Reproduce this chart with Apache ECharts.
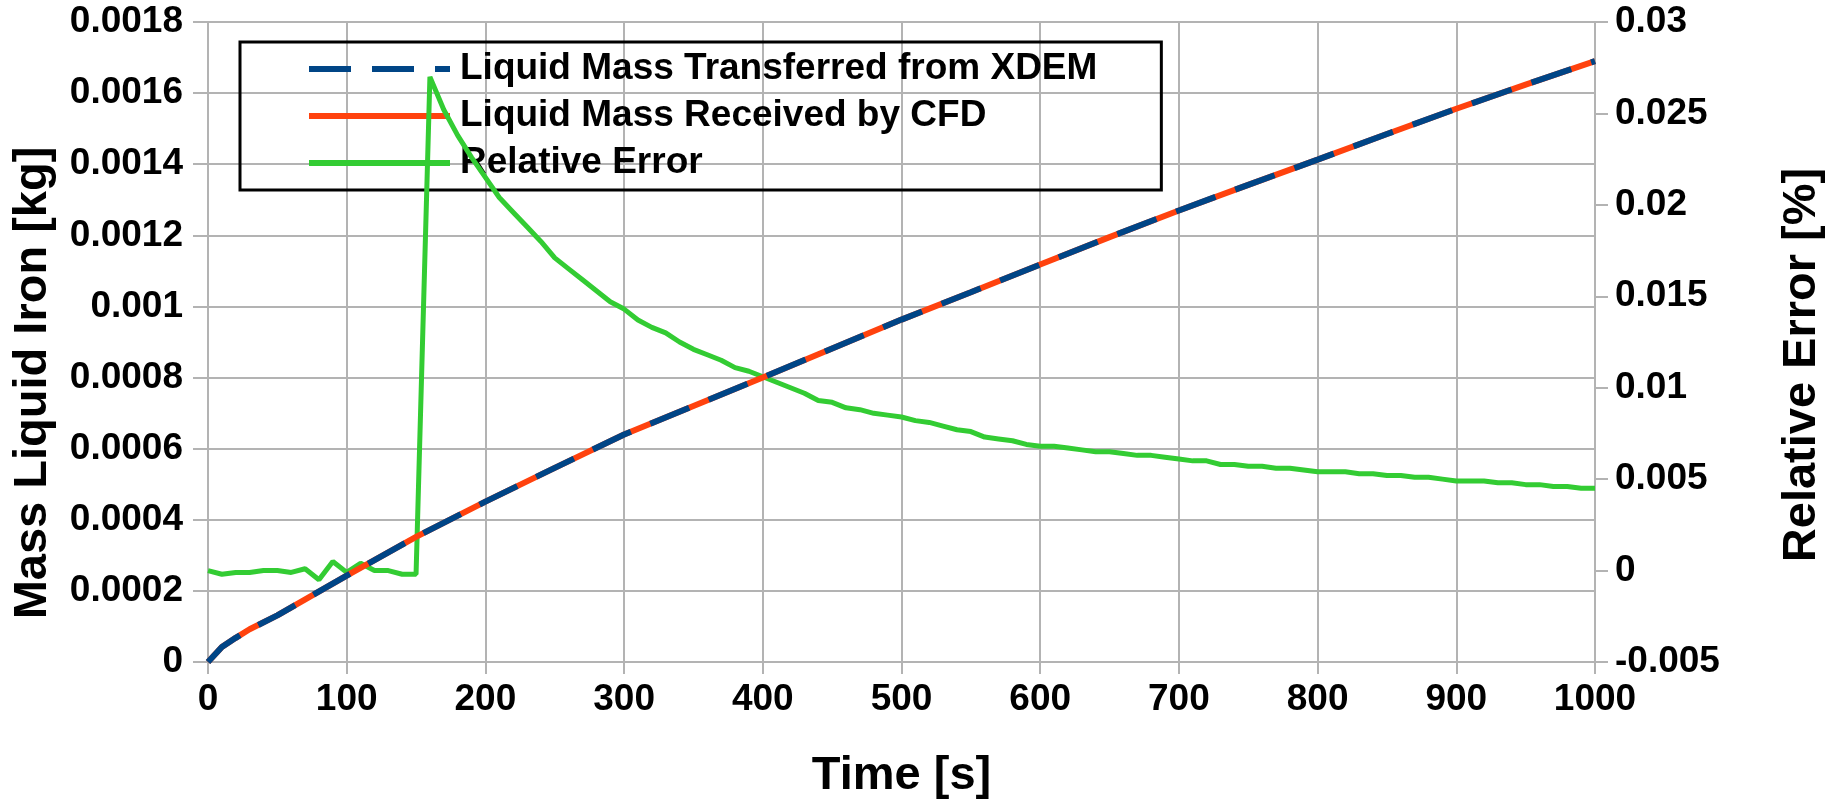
<!DOCTYPE html>
<html>
<head>
<meta charset="utf-8">
<script src="https://cdn.jsdelivr.net/npm/echarts@6/dist/echarts.min.js"></script>
<style>
html,body{margin:0;padding:0;background:#fff;}
#chart{width:1836px;height:805px;}
</style>
</head>
<body>
<div id="chart"></div>
<script>
// ---- data ----
const seriesNames = ['Liquid Mass Transferred from XDEM', 'Liquid Mass Received by CFD', 'Relative Error'];
const xAxisTitle = 'Time [s]';
const leftAxisTitle = 'Mass Liquid Iron [kg]';
const rightAxisTitle = 'Relative Error [%]';

const timeMass = [0,10,20,30,50,100,150,200,250,300,350,400,450,500,550,600,650,700,750,800,850,900,950,1000];
const massTransferred = [0,0.000042,0.000068,0.000092,0.000131,0.000243,0.000352,0.000451,0.000546,0.00064,0.00072,0.0008,0.000882,0.000963,0.00104,0.001118,0.001195,0.00127,0.001342,0.001413,0.001485,0.001556,0.001624,0.00169];
const massReceived = [0,0.000042,0.000068,0.000092,0.000131,0.000243,0.000352,0.000451,0.000546,0.00064,0.00072,0.0008,0.000882,0.000963,0.00104,0.001118,0.001195,0.00127,0.001342,0.001413,0.001485,0.001556,0.001624,0.00169];

const timeErr = [0,10,20,30,40,50,60,70,80,90,100,110,120,130,140,150,160,170,180,190,200,
  210,220,230,240,250,260,270,280,290,300,310,320,330,340,350,360,370,380,390,400,
  410,420,430,440,450,460,470,480,490,500,510,520,530,540,550,560,570,580,590,600,
  610,620,630,640,650,660,670,680,690,700,710,720,730,740,750,760,770,780,790,800,
  810,820,830,840,850,860,870,880,890,900,910,920,930,940,950,960,970,980,990,1000];
const relError = [0.0000,-0.0002,-0.0001,-0.0001,0.0000,0.0000,-0.0001,0.0001,-0.0005,0.0005,-0.0001,
  0.0004,0.0000,0.0000,-0.0002,-0.0002,0.0270,0.0252,0.0238,0.0226,0.0215,
  0.0204,0.0196,0.0188,0.0180,0.0171,0.0165,0.0159,0.0153,0.0147,0.0143,
  0.0137,0.0133,0.0130,0.0125,0.0121,0.0118,0.0115,0.0111,0.0109,0.0106,
  0.0103,0.0100,0.0097,0.0093,0.0092,0.0089,0.0088,0.0086,0.0085,0.0084,
  0.0082,0.0081,0.0079,0.0077,0.0076,0.0073,0.0072,0.0071,0.0069,0.0068,
  0.0068,0.0067,0.0066,0.0065,0.0065,0.0064,0.0063,0.0063,0.0062,0.0061,
  0.0060,0.0060,0.0058,0.0058,0.0057,0.0057,0.0056,0.0056,0.0055,0.0054,
  0.0054,0.0054,0.0053,0.0053,0.0052,0.0052,0.0051,0.0051,0.0050,0.0049,
  0.0049,0.0049,0.0048,0.0048,0.0047,0.0047,0.0046,0.0046,0.0045,0.0045];

// ---- chart ----
const FONT = 'Liberation Sans';
const pairs = (xs, ys) => xs.map((x, i) => [x, ys[i]]);
const fmt = v => String(+Number(v).toFixed(6));
const gridColor = '#b3b3b3';
const tickFont = {fontFamily: FONT, fontWeight: 'bold', fontSize: 37, color: '#000'};

const chart = echarts.init(document.getElementById('chart'), null, {renderer: 'canvas'});
chart.setOption({
  animation: false,
  backgroundColor: '#ffffff',
  grid: {left: 208, right: 241, top: 22, bottom: 142, containLabel: false},
  legend: {
    orient: 'vertical',
    left: 240, top: 42,
    data: seriesNames,
    itemWidth: 141, itemHeight: 14, itemGap: 7,
    padding: [7, 64, 7, 66],
    borderColor: '#000', borderWidth: 3,
    backgroundColor: 'transparent',
    z: 1,
    textStyle: {fontFamily: FONT, fontWeight: 'bold', fontSize: 37, color: '#000', lineHeight: 40, padding: [0,0,0,5]},
    lineStyle: {width: 6},
    itemStyle: {opacity: 0, borderWidth: 0},
    selectedMode: false
  },
  xAxis: {
    type: 'value', min: 0, max: 1000, interval: 100,
    name: xAxisTitle, nameLocation: 'middle', nameGap: 91,
    nameTextStyle: {fontFamily: FONT, fontWeight: 'bold', fontSize: 47, color: '#000'},
    axisLine: {show: false},
    axisTick: {show: true, length: 12, lineStyle: {color: gridColor, width: 2}},
    axisLabel: Object.assign({margin: 19, formatter: fmt}, tickFont),
    splitLine: {show: true, lineStyle: {color: gridColor, width: 2}}
  },
  yAxis: [{
    type: 'value', min: 0, max: 0.0018, interval: 0.0002, position: 'left',
    axisLine: {show: false},
    axisTick: {show: true, length: 15, lineStyle: {color: gridColor, width: 2}},
    axisLabel: Object.assign({margin: 25, formatter: fmt}, tickFont),
    splitLine: {show: true, lineStyle: {color: gridColor, width: 2}}
  }, {
    type: 'value', min: -0.005, max: 0.03, interval: 0.005, position: 'right',
    axisLine: {show: true, lineStyle: {color: gridColor, width: 2}},
    axisTick: {show: true, length: 13, lineStyle: {color: gridColor, width: 2}},
    axisLabel: Object.assign({margin: 20, formatter: fmt}, tickFont),
    splitLine: {show: false}
  }],
  graphic: [{
    type: 'text', x: 33, y: 383, rotation: Math.PI / 2,
    style: {text: leftAxisTitle, font: 'bold 47px "Liberation Sans"', fill: '#000', textAlign: 'center', textVerticalAlign: 'middle'}
  }, {
    type: 'text', x: 1802, y: 365, rotation: Math.PI / 2,
    style: {text: rightAxisTitle, font: 'bold 47px "Liberation Sans"', fill: '#000', textAlign: 'center', textVerticalAlign: 'middle'}
  }],
  series: [{
    name: seriesNames[2], type: 'line', yAxisIndex: 1, z: 2,
    data: pairs(timeErr, relError), showSymbol: false, symbol: 'none',
    lineStyle: {color: '#33cc33', width: 5}, itemStyle: {color: '#33cc33'}
  }, {
    name: seriesNames[1], type: 'line', yAxisIndex: 0, z: 3,
    data: pairs(timeMass, massReceived), showSymbol: false, symbol: 'none',
    lineStyle: {color: '#ff420e', width: 6}, itemStyle: {color: '#ff420e'}
  }, {
    name: seriesNames[0], type: 'line', yAxisIndex: 0, z: 4,
    data: pairs(timeMass, massTransferred), showSymbol: false, symbol: 'none',
    lineStyle: {color: '#004586', width: 6, type: [42, 21], cap: 'butt'}, itemStyle: {color: '#004586'}
  }]
});
</script>
</body>
</html>
